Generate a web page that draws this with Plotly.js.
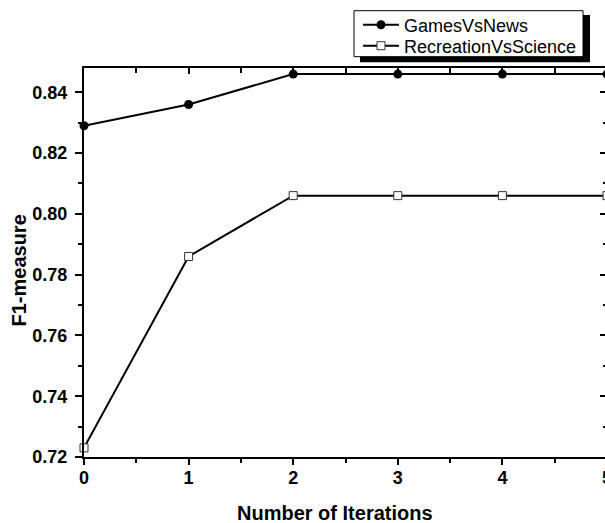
<!DOCTYPE html>
<html>
<head>
<meta charset="utf-8">
<script src="https://cdn.plot.ly/plotly-3.0.1.min.js"></script>
<style>
html, body { margin: 0; padding: 0; overflow: hidden; background: #fff; }
#chart { width: 612px; height: 523px; }
</style>
</head>
<body>
<div id="chart"></div>
<script>
// ---- data ----
const iterations = [0, 1, 2, 3, 4, 5];
const gamesVsNews = [0.829, 0.836, 0.846, 0.846, 0.846, 0.846];
const recreationVsScience = [0.723, 0.786, 0.806, 0.806, 0.806, 0.806];
const seriesNames = ["GamesVsNews", "RecreationVsScience"];
const xTitle = "Number of Iterations";
const yTitle = "F1-measure";

// ---- layout geometry (pixels) ----
const W = 612, H = 523;
const mL = 84, mR = 5, mT = 68, mB = 66;
const pw = W - mL - mR, ph = H - mT - mB;
const px = x => (x - mL) / pw;
const py = y => (H - mB - y) / ph;

const FONT = "Arial, 'Liberation Sans', sans-serif";
const tickFont = {family: FONT, size: 18, color: "#000", weight: "bold"};
const legendFont = {family: FONT, size: 18, color: "#000"};

const traces = [
  {
    x: iterations, y: gamesVsNews, name: seriesNames[0], legend: "legend",
    mode: "lines+markers", cliponaxis: false,
    line: {color: "#000", width: 2},
    marker: {symbol: "circle", size: 9, color: "#000"}
  },
  {
    x: iterations, y: recreationVsScience, name: seriesNames[1], legend: "legend2",
    mode: "lines+markers", cliponaxis: false,
    line: {color: "#000", width: 2},
    marker: {symbol: "square", size: 8, color: "#fff", line: {color: "#333", width: 1}}
  },
  {
    // carrier for mirrored top/right axes (invisible)
    x: iterations, y: gamesVsNews, xaxis: "x2", yaxis: "y2",
    mode: "lines", opacity: 0, showlegend: false, hoverinfo: "skip"
  }
];

const xr = [0, 5];
const yr = [0.72, 0.848];

const legendBase = {
  xanchor: "left", yanchor: "top",
  bgcolor: "rgba(0,0,0,0)", borderwidth: 0,
  font: legendFont, itemwidth: 36
};

const layout = {
  width: W, height: H,
  margin: {l: mL, r: mR, t: mT, b: mB, pad: 0},
  paper_bgcolor: "#fff", plot_bgcolor: "#fff",
  showlegend: true,
  font: {family: FONT, color: "#000"},
  xaxis: {
    range: xr, dtick: 1, tick0: 0, showgrid: false, zeroline: false,
    showline: true, linecolor: "#000", linewidth: 2,
    ticks: "outside", ticklen: 6, tickwidth: 2, tickcolor: "#000",
    minor: {dtick: 0.5, tick0: 0, ticks: "outside", ticklen: 4, tickwidth: 2, tickcolor: "#000", showgrid: false},
    tickfont: tickFont, ticklabelstandoff: -3, ticklabeloverflow: "allow", fixedrange: true
  },
  yaxis: {
    range: yr, dtick: 0.02, tick0: 0.72, tickformat: ".2f", showgrid: false, zeroline: false,
    showline: true, linecolor: "#000", linewidth: 2,
    ticks: "outside", ticklen: 7, tickwidth: 2, tickcolor: "#000",
    minor: {dtick: 0.01, tick0: 0.72, ticks: "outside", ticklen: 4, tickwidth: 2, tickcolor: "#000", showgrid: false},
    tickfont: tickFont, ticklabelstandoff: 4, fixedrange: true
  },
  xaxis2: {
    overlaying: "x", side: "top", anchor: "y2", range: xr, dtick: 1, tick0: 0,
    showgrid: false, zeroline: false, showticklabels: false,
    showline: true, linecolor: "#000", linewidth: 2,
    ticks: "inside", ticklen: 6, tickwidth: 2, tickcolor: "#000",
    minor: {dtick: 0.5, tick0: 0, ticks: "inside", ticklen: 5, tickwidth: 2, tickcolor: "#000", showgrid: false},
    fixedrange: true
  },
  yaxis2: {
    overlaying: "y", side: "right", anchor: "x2", range: yr, dtick: 0.02, tick0: 0.72,
    showgrid: false, zeroline: false, showticklabels: false,
    showline: true, linecolor: "#000", linewidth: 2,
    ticks: "inside", ticklen: 7, tickwidth: 2, tickcolor: "#000",
    minor: {dtick: 0.01, tick0: 0.72, ticks: "inside", ticklen: 4, tickwidth: 2, tickcolor: "#000", showgrid: false},
    fixedrange: true
  },
  legend: Object.assign({x: px(358), y: py(6.5)}, legendBase),
  legend2: Object.assign({x: px(358), y: py(27.5)}, legendBase),
  shapes: [
    {type: "rect", xref: "paper", yref: "paper", layer: "above",
     x0: px(360), x1: px(590), y0: py(15), y1: py(62.3),
     fillcolor: "#000", line: {width: 0}},
    {type: "rect", xref: "paper", yref: "paper", layer: "above",
     x0: px(354), x1: px(583), y0: py(10.7), y1: py(56.7),
     fillcolor: "#fff", line: {color: "#000", width: 1}}
  ],
  annotations: [
    {text: xTitle, xref: "paper", yref: "paper", x: px(334.5), y: py(513),
     xanchor: "center", yanchor: "middle", showarrow: false,
     font: {family: FONT, size: 20, color: "#000", weight: "bold"}},
    {text: yTitle, xref: "paper", yref: "paper", x: px(18.5), y: py(271),
     xanchor: "center", yanchor: "middle", showarrow: false, textangle: -90,
     font: {family: FONT, size: 20, color: "#000", weight: "bold"}}
  ]
};

Plotly.newPlot("chart", traces, layout, {displayModeBar: false, staticPlot: true});
</script>
</body>
</html>
